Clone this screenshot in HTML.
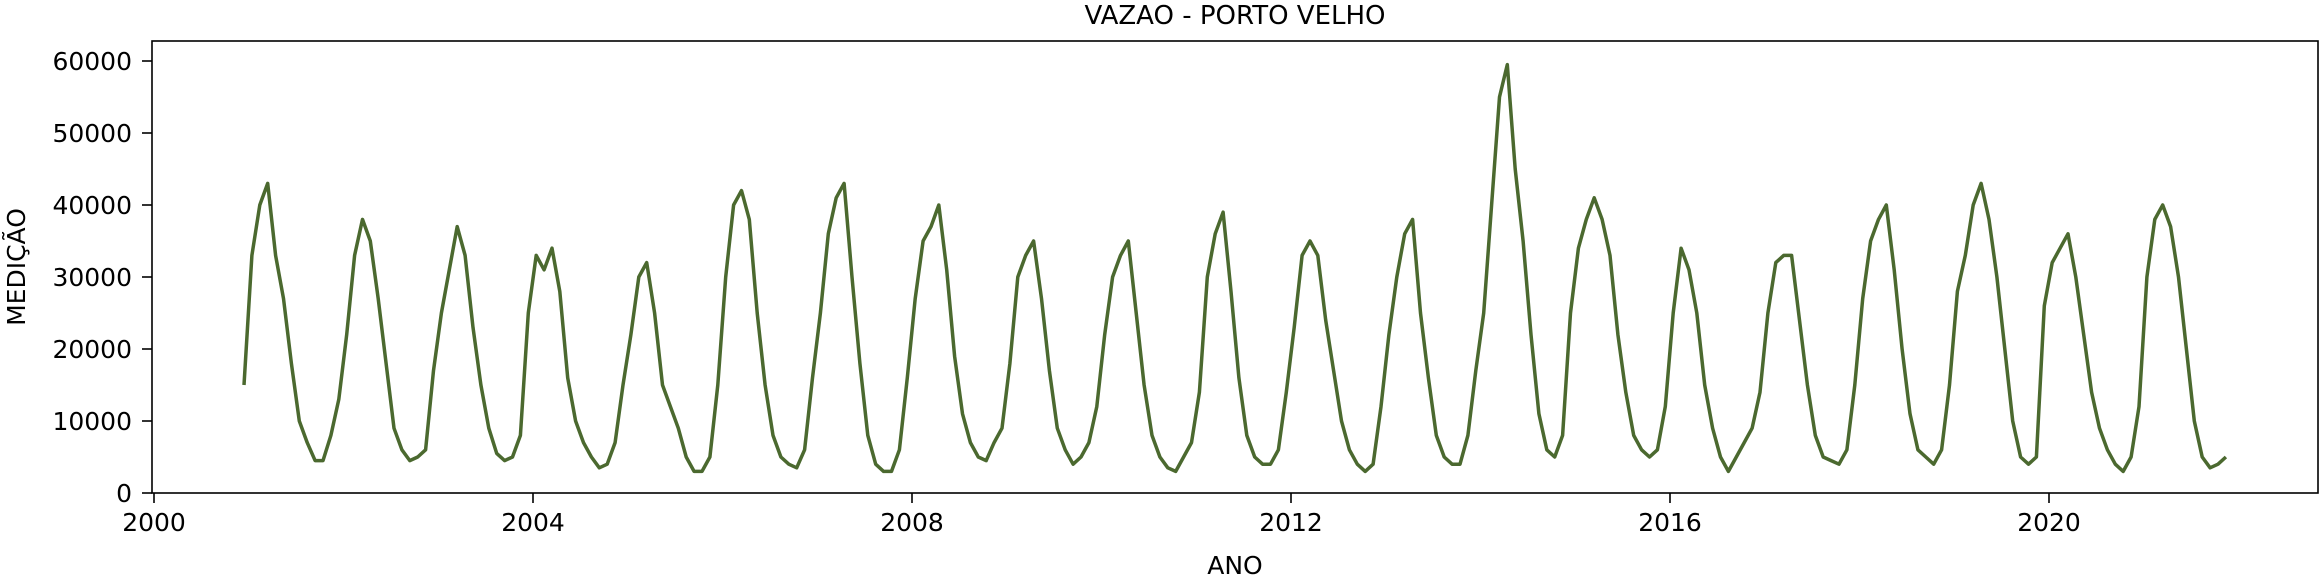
<!DOCTYPE html>
<html><head><meta charset="utf-8"><style>
html,body{margin:0;padding:0;background:#fff;}
svg text{font-family:"DejaVu Sans","Liberation Sans",sans-serif;fill:#000;}
</style></head><body>
<svg id="chart" width="2320" height="582" viewBox="0 0 2320 582" xmlns="http://www.w3.org/2000/svg">
<rect x="0" y="0" width="2320" height="582" fill="#fff"/>
<text x="1235" y="24" font-size="26" text-anchor="middle">VAZAO - PORTO VELHO</text>
<g id="axes"></g>
<path id="series" fill="none" stroke="#4b692f" stroke-width="3.5" stroke-linejoin="round"/>
<rect x="152" y="41" width="2166" height="452" fill="none" stroke="#000" stroke-width="1.6"/>
<text x="1235" y="574" font-size="25" text-anchor="middle">ANO</text>
<text transform="translate(18,267) rotate(-90)" font-size="25" text-anchor="middle" dominant-baseline="middle">MEDIÇÃO</text>
</svg>
<script>
const startYear = 2001;
const yTicks = [0,10000,20000,30000,40000,50000,60000];
const xTicks = [2000,2004,2008,2012,2016,2020];
// monthly values (thousands), Jan..Dec per year 2001..2021
const v2001=[15,33,40,43,33,27,18,10,7,4.5,4.5,8];
const v2002=[13,22,33,38,35,27,18,9,6,4.5,5,6];
const v2003=[17,25,31,37,33,23,15,9,5.5,4.5,5,8];
const v2004=[25,33,31,34,28,16,10,7,5,3.5,4,7];
const v2005=[15,22,30,32,25,15,12,9,5,3,3,5];
const v2006=[15,30,40,42,38,25,15,8,5,4,3.5,6];
const v2007=[16,25,36,41,43,30,18,8,4,3,3,6];
const v2008=[16,27,35,37,40,31,19,11,7,5,4.5,7];
const v2009=[9,18,30,33,35,27,17,9,6,4,5,7];
const v2010=[12,22,30,33,35,25,15,8,5,3.5,3,5];
const v2011=[7,14,30,36,39,28,16,8,5,4,4,6];
const v2012=[14,23,33,35,33,24,17,10,6,4,3,4];
const v2013=[12,22,30,36,38,25,16,8,5,4,4,8];
const v2014=[17,25,40,55,59.5,45,35,22,11,6,5,8];
const v2015=[25,34,38,41,38,33,22,14,8,6,5,6];
const v2016=[12,25,34,31,25,15,9,5,3,5,7,9];
const v2017=[14,25,32,33,33,24,15,8,5,4.5,4,6];
const v2018=[15,27,35,38,40,31,20,11,6,5,4,6];
const v2019=[15,28,33,40,43,38,30,20,10,5,4,5];
const v2020=[26,32,34,36,30,22,14,9,6,4,3,5];
const v2021=[12,30,38,40,37,30,20,10,5,3.5,4,5];
const years=[v2001,v2002,v2003,v2004,v2005,v2006,v2007,v2008,v2009,v2010,v2011,v2012,v2013,v2014,v2015,v2016,v2017,v2018,v2019,v2020,v2021];

const X0=154, PX_PER_YEAR=94.75, Y0=493, PX_PER_UNIT=(493-61)/60000;
function xs(t){return X0+(t-2000)*PX_PER_YEAR;}
function ys(v){return Y0-v*PX_PER_UNIT;}
const NS="http://www.w3.org/2000/svg";
const axes=document.getElementById('axes');
yTicks.forEach(v=>{
  const l=document.createElementNS(NS,'line');
  l.setAttribute('x1',142);l.setAttribute('x2',152);l.setAttribute('y1',ys(v));l.setAttribute('y2',ys(v));
  l.setAttribute('stroke','#000');l.setAttribute('stroke-width','1.6');
  
  
  axes.appendChild(l);
  const t=document.createElementNS(NS,'text');
  t.setAttribute('x',132);t.setAttribute('y',ys(v)+9);t.setAttribute('font-size','25');t.setAttribute('text-anchor','end');
  t.textContent=v;
  
  
  axes.appendChild(t);
});
xTicks.forEach(v=>{
  const l=document.createElementNS(NS,'line');
  l.setAttribute('x1',xs(v));l.setAttribute('x2',xs(v));l.setAttribute('y1',493);l.setAttribute('y2',503);
  l.setAttribute('stroke','#000');l.setAttribute('stroke-width','1.6');
  
  
  axes.appendChild(l);
  const t=document.createElementNS(NS,'text');
  t.setAttribute('x',xs(v));t.setAttribute('y',531);t.setAttribute('font-size','25');t.setAttribute('text-anchor','middle');
  t.textContent=v;
  
  
  axes.appendChild(t);
});
let d='';
years.forEach((arr,yi)=>{
  arr.forEach((val,m)=>{
    const t=startYear+yi+m/12-0.05;
    d+=(d?'L':'M')+xs(t).toFixed(1)+','+ys(val*1000).toFixed(1);
  });
});
document.getElementById('series').setAttribute('d',d);
</script>
</body></html>
